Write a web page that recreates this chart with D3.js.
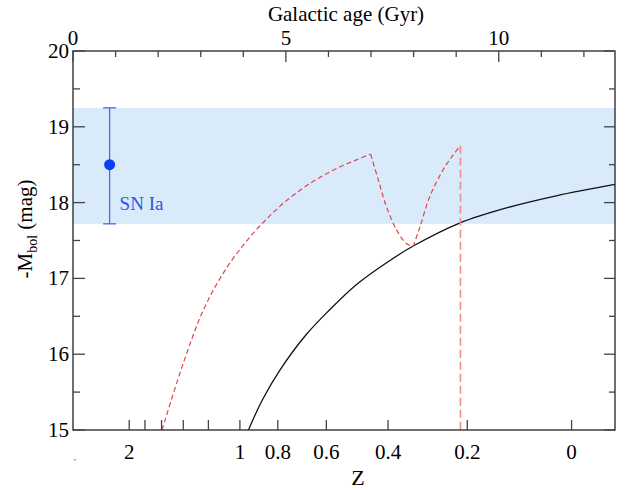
<!DOCTYPE html>
<html><head><meta charset="utf-8">
<script src="https://cdn.jsdelivr.net/npm/d3@7/dist/d3.min.js"></script>
<style>body{margin:0;background:#fff}svg{display:block}</style>
</head><body>
<script>
// ---- data ----
const ageMajorTicks = [0, 5, 10];
const ageMinorTicks = [1, 2, 3, 4, 6, 7, 8, 9, 11, 12];
const magMajorTicks = [15, 16, 17, 18, 19, 20];
const magMinorTicks = [15.5, 16.5, 17.5, 18.5, 19.5];
const zTickLabels = ["2", "", "", "", "", "1", "0.8", "0.6", "0.4", "0.2", "0"];
const zTickAges   = [1.32, 1.69, 2.08, 2.59, 3.18, 3.92, 4.81, 5.95, 7.40, 9.26, 11.71];

const blackAges = [4.12, 4.45, 4.86, 5.45, 6.00, 6.66, 7.40, 8.00, 9.08, 10.18, 11.35, 12.73];
const blackMags = [15.00, 15.40, 15.79, 16.24, 16.57, 16.92, 17.22, 17.43, 17.73, 17.93, 18.09, 18.24];

const redAges = [2.09, 2.59, 3.06, 3.53, 4.00, 4.42, 4.94, 5.56, 6.19, 6.99, 7.17, 7.36, 7.60, 7.83, 7.99, 8.15, 8.38, 8.69, 8.93, 9.10];
const redMags = [15.00, 15.88, 16.58, 17.07, 17.44, 17.71, 17.99, 18.25, 18.45, 18.64, 18.30, 17.95, 17.64, 17.46, 17.42, 17.68, 18.08, 18.43, 18.63, 18.75];
const redCusps = [0, 9, 14, 19];

const cutoffAge = [9.10];
const cutoffMags = [18.75, 15.0];

const snAge = [0.86];
const snMag = [18.5];
const snMagLow = [17.72];
const snMagHigh = [19.25];
const snLabel = ["SN Ia"];

// ---- layout ----
const W = 630, H = 490;
const L = 73, R = 615, T = 51, B = 430;
const FONT = "Liberation Serif, DejaVu Serif, serif";
const svg = d3.select("body").append("svg").attr("width", W).attr("height", H)
  .style("font-family", FONT);
const x = d3.scaleLinear().domain([0, 12.73]).range([L, R]);
const y = d3.scaleLinear().domain([15, 20]).range([B, T]);

// band
svg.append("rect").attr("x", L).attr("width", R - L)
  .attr("y", y(snMagHigh[0])).attr("height", y(snMagLow[0]) - y(snMagHigh[0]))
  .attr("fill", "#d9eafb");

const line = d3.line().x((d) => x(d[0])).y((d) => y(d[1])).curve(d3.curveCatmullRom.alpha(0.5));

// black curve
svg.append("path").datum(blackAges.map((a, i) => [a, blackMags[i]]))
  .attr("d", line).attr("fill", "none").attr("stroke", "#111").attr("stroke-width", 1.3);

// red dashed segments
for (let s = 0; s < redCusps.length - 1; s++) {
  const pts = [];
  for (let i = redCusps[s]; i <= redCusps[s + 1]; i++) pts.push([redAges[i], redMags[i]]);
  svg.append("path").datum(pts).attr("d", line)
    .attr("fill", "none").attr("stroke", "#e2444a").attr("stroke-width", 1.2)
    .attr("stroke-dasharray", "5,3");
}
// cutoff vertical
svg.append("line").attr("x1", x(cutoffAge[0])).attr("x2", x(cutoffAge[0]))
  .attr("y1", y(cutoffMags[0])).attr("y2", y(cutoffMags[1]))
  .attr("stroke", "#f08c8c").attr("stroke-width", 1.6).attr("stroke-dasharray", "8,4");

// SN Ia point
const ex = x(snAge[0]);
svg.append("line").attr("x1", ex).attr("x2", ex).attr("y1", y(snMagHigh[0])).attr("y2", y(snMagLow[0]))
  .attr("stroke", "#4a6ae6").attr("stroke-width", 1.3);
[snMagHigh[0], snMagLow[0]].forEach((m) => {
  svg.append("line").attr("x1", ex - 6.5).attr("x2", ex + 6.5).attr("y1", y(m)).attr("y2", y(m))
    .attr("stroke", "#4a6ae6").attr("stroke-width", 1.3);
});
svg.append("circle").attr("cx", ex).attr("cy", y(snMag[0])).attr("r", 5.5).attr("fill", "#0b3ff5");
svg.append("text").attr("x", ex + 10).attr("y", y(18.0) + 7).text(snLabel[0])
  .attr("font-size", 19).attr("fill", "#2a55f0");

// frame
svg.append("rect").attr("x", L).attr("y", T).attr("width", R - L).attr("height", B - T)
  .attr("fill", "none").attr("stroke", "#333").attr("stroke-width", 1.4);

const tk = svg.append("g").attr("stroke", "#444").attr("stroke-width", 1.3);
ageMajorTicks.forEach((a) => tk.append("line").attr("x1", x(a)).attr("x2", x(a)).attr("y1", T).attr("y2", T + 11));
ageMinorTicks.forEach((a) => tk.append("line").attr("x1", x(a)).attr("x2", x(a)).attr("y1", T).attr("y2", T + 6));
magMajorTicks.forEach((m) => {
  tk.append("line").attr("x1", L).attr("x2", L + 12).attr("y1", y(m)).attr("y2", y(m));
  tk.append("line").attr("x1", R).attr("x2", R - 11).attr("y1", y(m)).attr("y2", y(m));
});
magMinorTicks.forEach((m) => {
  tk.append("line").attr("x1", L).attr("x2", L + 7).attr("y1", y(m)).attr("y2", y(m));
  tk.append("line").attr("x1", R).attr("x2", R - 6).attr("y1", y(m)).attr("y2", y(m));
});
zTickAges.forEach((a) => tk.append("line").attr("x1", x(a)).attr("x2", x(a)).attr("y1", B).attr("y2", B - 10));

// tick labels
ageMajorTicks.forEach((a) => svg.append("text").attr("x", x(a)).attr("y", 45)
  .attr("text-anchor", "middle").attr("font-size", 21).text(a));
magMajorTicks.forEach((m) => svg.append("text").attr("x", 69).attr("y", y(m) + 7)
  .attr("text-anchor", "end").attr("font-size", 21).text(m));
zTickAges.forEach((a, i) => {
  if (zTickLabels[i]) svg.append("text").attr("x", x(a)).attr("y", 459)
    .attr("text-anchor", "middle").attr("font-size", 21).text(zTickLabels[i]);
});

// axis titles
svg.append("text").attr("x", 346).attr("y", 21).attr("text-anchor", "middle")
  .attr("font-size", 21).text("Galactic age (Gyr)");
svg.append("text").attr("x", 358).attr("y", 485).attr("text-anchor", "middle")
  .attr("font-size", 22).text("Z");
const yl = svg.append("text").attr("transform", "translate(32,229) rotate(-90)")
  .attr("text-anchor", "middle").attr("font-size", 21);
yl.append("tspan").text("-M");
yl.append("tspan").attr("dy", 5).attr("font-size", 14).text("bol");
yl.append("tspan").attr("dy", -5).text(" (mag)");

// tiny artifact dot
svg.append("rect").attr("x", 74).attr("y", 459).attr("width", 1.5).attr("height", 1.5).attr("fill", "#888");
</script>
</body></html>
